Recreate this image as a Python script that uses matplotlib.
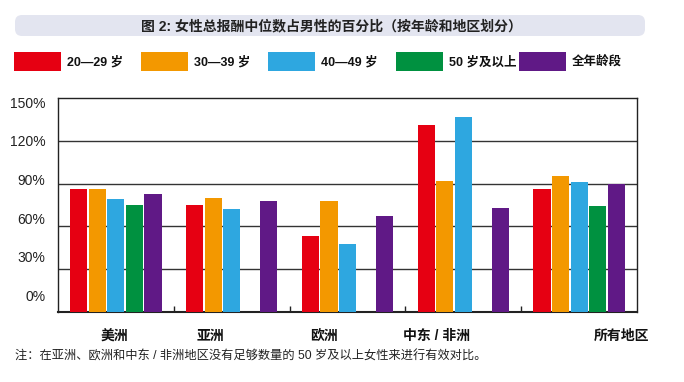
import matplotlib
matplotlib.use("Agg")
import matplotlib.pyplot as plt
import numpy as np
from matplotlib.patches import Rectangle, FancyBboxPatch

plt.rcParams["font.family"] = ["Liberation Sans", "Noto Sans CJK SC", "DejaVu Sans"]

# data (percent of male median total compensation)
regions = ["美洲", "亚洲", "欧洲", "中东 / 非洲", "所有地区"]
series = ["20—29 岁", "30—39 岁", "40—49 岁", "50 岁及以上", "全年龄段"]
age_20_29 = [86, 75, 53, 131, 86]
age_30_39 = [86, 80, 78, 92, 95]
age_40_49 = [79, 72, 48, 137, 91]
age_50_plus = [75, np.nan, np.nan, np.nan, 74]
all_ages = [83, 78, 67, 73, 90]
yticks = [0, 30, 60, 90, 120, 150]

title = "图 2: 女性总报酬中位数占男性的百分比（按年龄和地区划分）"
note = "注：在亚洲、欧洲和中东 / 非洲地区没有足够数量的 50 岁及以上女性来进行有效对比。"

COLORS = ["#e60012", "#f39800", "#2ea7e0", "#009140", "#601986"]
TITLE_BG = "#e3e5f0"

W, H = 684, 382
fig = plt.figure(figsize=(W / 100, H / 100), dpi=100)


def px(x, y):
    # pixel position (from top-left) -> inches for dpi_scale_trans
    return x / 100, (H - y) / 100


# title bar
x0, y0 = px(15, 36)
fig.patches.append(FancyBboxPatch((x0, y0), 6.30, 0.21,
                                  boxstyle="round,pad=0,rounding_size=0.07",
                                  transform=fig.dpi_scale_trans,
                                  facecolor=TITLE_BG, edgecolor="none"))
fig.text(*px(331, 26), title, transform=fig.dpi_scale_trans, ha="center",
         va="center", fontsize=10, fontweight="bold", color="#222222")

# legend
leg_x = [14, 141, 268, 396, 519]
for lx, lab, c in zip(leg_x, series, COLORS):
    bx, by = px(lx, 71)
    fig.patches.append(Rectangle((bx, by), 0.47, 0.19, transform=fig.dpi_scale_trans,
                                 facecolor=c, edgecolor="none"))
    fig.text(*px(lx + 53, 62), lab, transform=fig.dpi_scale_trans, ha="left",
             va="center", fontsize=9, fontweight="bold", color="#111111")

# plot area
ax = fig.add_axes([58 / W, (H - 312) / H, (637 - 58) / W, (312 - 98) / H])
vals = [age_20_29, age_30_39, age_40_49, age_50_plus, all_ages]
x = np.arange(len(regions))
slot = 0.16
for j, (v, c) in enumerate(zip(vals, COLORS)):
    ax.bar(x + (j - 2) * slot, v, width=0.148, color=c, linewidth=0, zorder=3)

ax.set_xlim(-0.5, len(regions) - 0.5)
ax.set_ylim(0, 150)
for g in yticks[1:-1]:
    ax.axhline(g, color="#333333", lw=1.0, zorder=1)
for s in ax.spines.values():
    s.set_color("#222222")
    s.set_linewidth(1.0)
ax.spines["bottom"].set_linewidth(1.5)

ax.set_yticks([])
ax.set_xticks(x[:-1] + 0.5)
ax.set_xticklabels([])
ax.tick_params(axis="x", direction="in", length=4, width=1, color="#222222")

# y labels sit a little off the gridlines, as in the original
for v in yticks:
    ax.text(-0.61, 10.5 + v * 0.903, f"{v}%", ha="right", va="center",
            fontsize=10, color="#222222", clip_on=False)

# category labels
lab_shift = [-0.01, -0.18, -0.2, -0.23, 0.37]
for i, (r, d) in enumerate(zip(regions, lab_shift)):
    ax.text(i + d, -17, r, ha="center", va="center", fontsize=10,
            fontweight="bold", color="#111111", clip_on=False)

fig.text(*px(15, 357), note, transform=fig.dpi_scale_trans, ha="left",
         va="center", fontsize=8.8, color="#222222")

fig.savefig("out.png", dpi=100)
